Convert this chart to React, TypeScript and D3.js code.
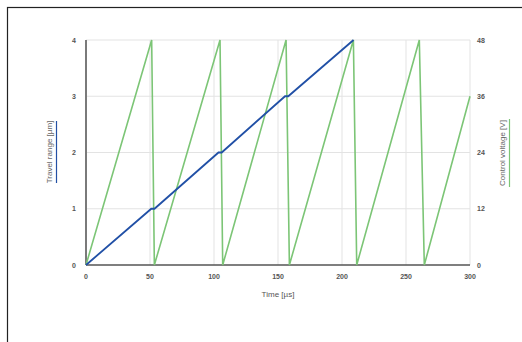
import { useEffect, useRef } from "react";
import * as d3 from "d3";

// Travel range of the stage [µm] vs time [µs]
const travelTime = [0, 51, 53.5, 103.5, 106, 155.5, 158, 209];
const travelRange = [0, 1, 1, 2, 2, 3, 3, 4];

// Control voltage sawtooth [V] vs time [µs]
const voltTime = [0, 51.3, 53.4, 104.7, 106.8, 156.3, 158.9, 208.9, 211.5, 260.4, 264.3, 300];
const voltValue = [0, 48, 0, 48, 0, 48, 0, 48, 0, 48, 0, 36];

const xTicks = [0, 50, 100, 150, 200, 250, 300];
const leftTicks = [0, 1, 2, 3, 4];
const rightTicks = [0, 12, 24, 36, 48];

export default function App() {
    const ref = useRef<SVGSVGElement | null>(null);

    useEffect(() => {
        const svg = d3.select(ref.current);
        svg.selectAll("*").remove();

        const font = "Liberation Sans, Arial, sans-serif";
        const left = 86, right = 470, top = 40, bottom = 265;

        const x = d3.scaleLinear().domain([0, 300]).range([left, right]);
        const yL = d3.scaleLinear().domain([0, 4]).range([bottom, top]);
        const yR = d3.scaleLinear().domain([0, 48]).range([bottom, top]);

        // frame
        svg.append("rect")
            .attr("x", 7.5).attr("y", 7.5)
            .attr("width", 530).attr("height", 350)
            .attr("fill", "white")
            .attr("stroke", "#222")
            .attr("stroke-width", 1.2);

        // grid
        const grid = svg.append("g").attr("stroke", "#e3e3e3").attr("stroke-width", 1);
        grid.selectAll("line.h").data(leftTicks.slice(1)).enter().append("line")
            .attr("x1", left).attr("x2", right)
            .attr("y1", (d) => yL(d)).attr("y2", (d) => yL(d));
        grid.selectAll("line.v").data(xTicks.slice(1)).enter().append("line")
            .attr("x1", (d) => x(d)).attr("x2", (d) => x(d))
            .attr("y1", top).attr("y2", bottom);

        // axis lines
        svg.append("line")
            .attr("x1", left).attr("x2", left).attr("y1", top).attr("y2", bottom)
            .attr("stroke", "#7a7a7a").attr("stroke-width", 2);
        svg.append("line")
            .attr("x1", left).attr("x2", right).attr("y1", bottom).attr("y2", bottom)
            .attr("stroke", "#555").attr("stroke-width", 1.5);

        // tick labels
        const tickStyle = (sel: any) => sel
            .attr("font-family", font).attr("font-size", 7)
            .attr("font-weight", "bold").attr("fill", "#555");

        svg.append("g").selectAll("text").data(leftTicks).enter().append("text")
            .attr("x", 76).attr("y", (d) => yL(d) + 2.5)
            .attr("text-anchor", "end").text((d) => d)
            .call(tickStyle);
        svg.append("g").selectAll("text").data(rightTicks).enter().append("text")
            .attr("x", 477).attr("y", (d) => yR(d) + 2.5)
            .attr("text-anchor", "start").text((d) => d)
            .call(tickStyle);
        svg.append("g").selectAll("text").data(xTicks).enter().append("text")
            .attr("x", (d) => x(d)).attr("y", 279)
            .attr("text-anchor", "middle").text((d) => d)
            .call(tickStyle);

        // axis titles
        svg.append("text")
            .attr("x", 278).attr("y", 297)
            .attr("text-anchor", "middle")
            .attr("font-family", font).attr("font-size", 8).attr("fill", "#555")
            .text("Time [µs]");

        const leftTitle = svg.append("g").attr("transform", "translate(52,152) rotate(-90)");
        leftTitle.append("text")
            .attr("text-anchor", "middle")
            .attr("font-family", font).attr("font-size", 8).attr("fill", "#666")
            .text("Travel range [µm]");
        leftTitle.append("line")
            .attr("x1", -31).attr("x2", 31).attr("y1", 4.5).attr("y2", 4.5)
            .attr("stroke", "#2350a5").attr("stroke-width", 1.2);

        const rightTitle = svg.append("g").attr("transform", "translate(505,153) rotate(-90)");
        rightTitle.append("text")
            .attr("text-anchor", "middle")
            .attr("font-family", font).attr("font-size", 8).attr("fill", "#666")
            .text("Control voltage [V]");
        rightTitle.append("line")
            .attr("x1", -34).attr("x2", 34).attr("y1", 4.5).attr("y2", 4.5)
            .attr("stroke", "#7cc576").attr("stroke-width", 1.2);

        // series
        const voltLine = d3.line<number>()
            .x((d, i) => x(voltTime[i]))
            .y((d) => yR(d));
        svg.append("path")
            .datum(voltValue)
            .attr("fill", "none")
            .attr("stroke", "#7cc576")
            .attr("stroke-width", 1.6)
            .attr("d", voltLine);

        const travelLine = d3.line<number>()
            .x((d, i) => x(travelTime[i]))
            .y((d) => yL(d));
        svg.append("path")
            .datum(travelRange)
            .attr("fill", "none")
            .attr("stroke", "#2150a6")
            .attr("stroke-width", 1.8)
            .attr("d", travelLine);
    }, []);

    return (
        <svg ref={ref} width={522} height={342}
            style={{ position: "absolute", left: 0, top: 0, background: "white" }}></svg>
    );
}
